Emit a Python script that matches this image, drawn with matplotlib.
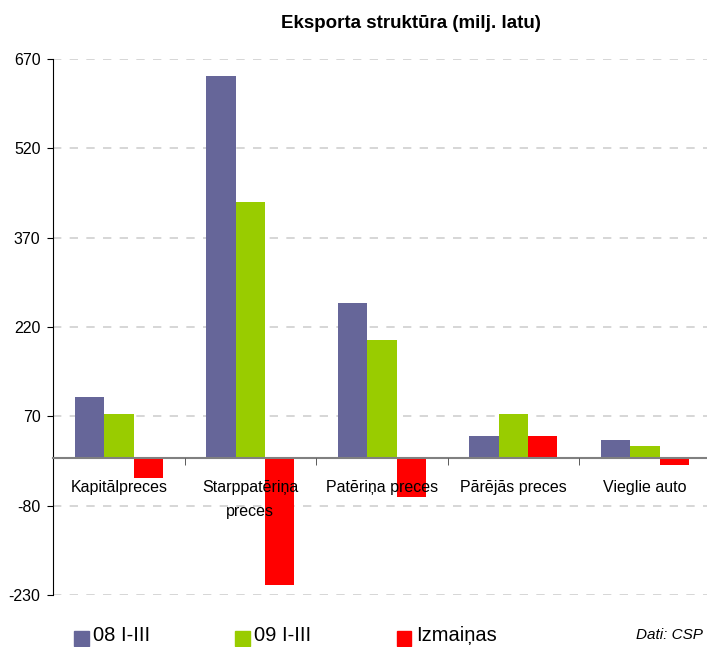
import numpy as np
import matplotlib
matplotlib.use('Agg')
import matplotlib.pyplot as plt

plt.rcParams['font.family'] = ['Liberation Sans', 'DejaVu Sans']
plt.rcParams['axes.unicode_minus'] = False

# Data (milj. latu)
categories = ['Kapitālpreces', 'Starppatēriņa\npreces', 'Patēriņa preces',
              'Pārējās preces', 'Vieglie auto']
series_names = ['08 I-III', '09 I-III', 'Izmaiņas']
exp_08 = [103, 641, 260, 37, 30]
exp_09 = [74, 430, 198, 74, 20]
change = [-33, -213, -65, 37, -12]
y_ticks = [-230, -80, 70, 220, 370, 520, 670]

colors = ['#666699', '#99CC00', '#FF0000']

fig = plt.figure(figsize=(7.07, 6.47), dpi=100)
ax = fig.add_axes([0.075, 0.0804, 0.93, 0.8284])
ax.set_axisbelow(False)

x = np.arange(len(categories))
w = 0.224
for i, (vals, c) in enumerate(zip([exp_08, exp_09, change], colors)):
    ax.bar(x + (i - 1) * w, vals, width=w, color=c, zorder=1)

# dashed gridlines behind the bars
for yv in y_ticks:
    ax.axhline(yv, linestyle=(0, (5, 5)), color='#d0d0d0', linewidth=1.2, zorder=0.5)

ax.set_ylim(-230, 670)
ax.set_xlim(-0.5, len(categories) - 0.5)
ax.set_yticks(y_ticks)
ax.tick_params(axis='y', labelsize=11.5, length=4, direction='out', pad=5)

ax.spines['top'].set_visible(False)
ax.spines['right'].set_visible(False)
ax.spines['left'].set_color('black')
ax.spines['bottom'].set_position(('data', 0))
ax.spines['bottom'].set_color('#808080')
ax.spines['bottom'].set_linewidth(1.5)

ax.set_xticks(x)
ax.set_xticklabels(categories, fontsize=11.5, linespacing=1.75)
ax.set_xticks(np.arange(0.5, len(categories) - 0.5), minor=True)
ax.tick_params(axis='x', which='major', length=0, pad=16)
ax.tick_params(axis='x', which='minor', length=5, color='#404040')

fig.text(0.581, 0.963, 'Eksporta struktūra (milj. latu)', ha='center', va='center',
         fontsize=13.5, fontweight='bold')

# Legend
leg_x = [0.105, 0.332, 0.561]
for lx, name, c in zip(leg_x, series_names, colors):
    fig.patches.append(plt.Rectangle((lx, 0.002), 0.021, 0.023, color=c,
                                     transform=fig.transFigure, figure=fig))
    fig.text(lx + 0.027, 0.0025, name, ha='left', va='bottom', fontsize=14.5)

fig.text(0.994, 0.0185, 'Dati: CSP', ha='right', va='center', fontsize=11, style='italic')

fig.savefig('out.png', dpi=100)
